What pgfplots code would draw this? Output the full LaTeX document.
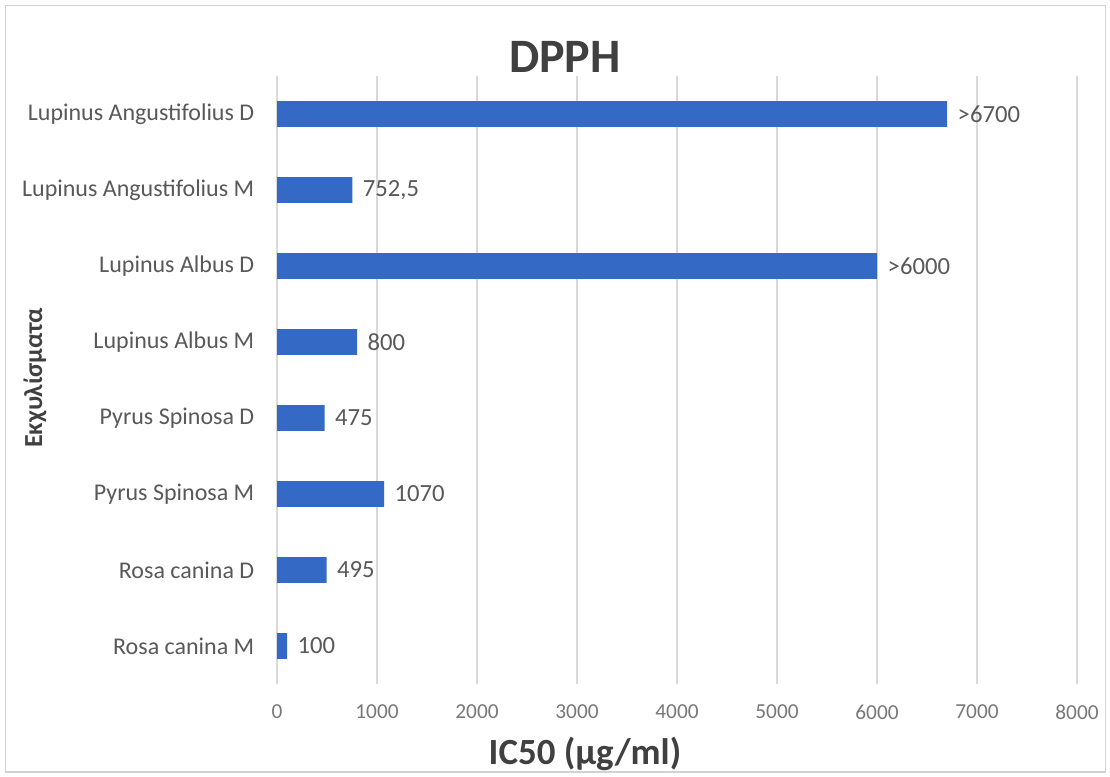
\documentclass[border=0pt]{standalone}
\usepackage{pgfplots}
\pgfplotsset{compat=1.18}
\usepackage{pgfplotstable}
\usepackage{fontspec}
\setmainfont{Carlito}

\definecolor{barblue}{RGB}{52,106,198}
\definecolor{txtgray}{RGB}{89,89,89}
\definecolor{tickgray}{RGB}{120,120,120}
\definecolor{titlegray}{RGB}{64,64,64}
\definecolor{gridgray}{RGB}{217,217,217}

% extracts, bottom to top
\pgfplotstableread{
y x lbl
0 100 100
1 495 495
2 1070 1070
3 475 475
4 800 800
5 6000 >6000
6 752.5 752,5
7 6700 >6700
}\dpph

\begin{document}
\begin{tikzpicture}
\fill[white] (0,0) rectangle (832.5pt,582pt);
\draw[gray!35, line width=0.8pt] (4pt,3pt) rectangle (829pt,578pt);
\begin{axis}[
    at={(207.75pt,69pt)}, anchor=south west,
    scale only axis, width=600pt, height=456pt,
    xbar, bar width=0.34,
    xmin=0, xmax=8000, ymin=-0.5, ymax=7.5,
    axis line style={draw=none},
    major tick length=0pt,
    ytick={0,...,7},
    yticklabels={Rosa canina M, Rosa canina D, Pyrus Spinosa M, Pyrus Spinosa D,
        Lupinus Albus M, Lupinus Albus D, Lupinus Angustifolius M, Lupinus Angustifolius D},
    xtick={0,1000,...,8000},
    xmajorgrids, grid style={gridgray, line width=0.8pt},
    /pgf/number format/1000 sep={},
    /pgf/number format/assume math mode=true,
    xticklabel style={font=\fontsize{16}{16}\selectfont, text=tickgray, yshift=-12pt},
    yticklabel style={font=\fontsize{18}{18}\selectfont, text=txtgray, xshift=-13.5pt},
    point meta=explicit symbolic,
    nodes near coords={\pgfplotspointmeta},
    nodes near coords style={font=\fontsize{18.5}{18.5}\selectfont, text=txtgray, anchor=west, xshift=4.5pt},
]
\addplot[fill=barblue, draw=none] table[x=x, y=y, meta=lbl] {\dpph};
\end{axis}
\node[font=\bfseries\fontsize{36}{36}\selectfont, text=titlegray] at (423.75pt,539.25pt) {DPPH};
\node[font=\bfseries\fontsize{27.7}{27.7}\selectfont, text=titlegray] at (438.75pt,16.5pt) {IC50 (µg/ml)};
\node[rotate=90, font=\bfseries\fontsize{19.5}{19.5}\selectfont, text=titlegray] at (26.25pt,298.5pt) {Εκχυλίσματα};
\end{tikzpicture}
\end{document}
